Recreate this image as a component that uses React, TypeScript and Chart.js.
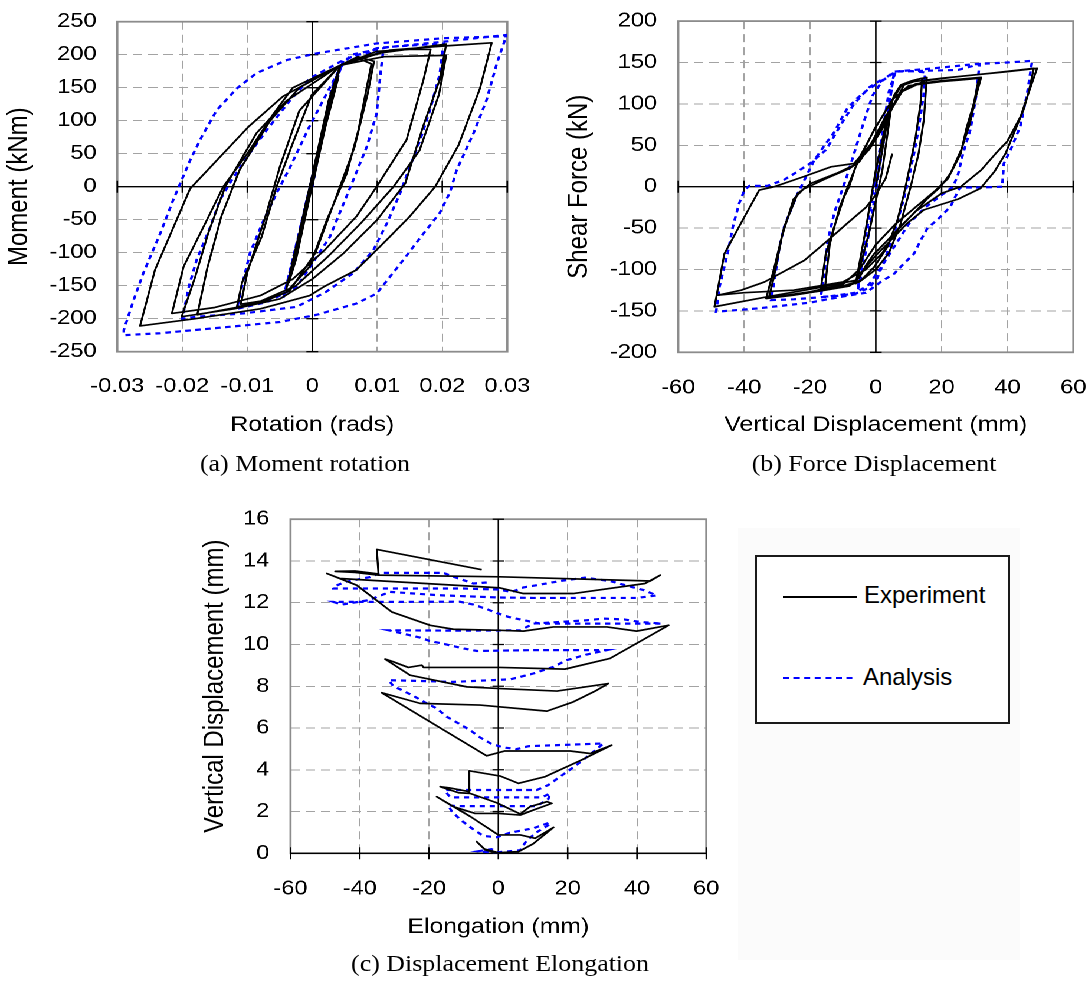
import React, { useEffect, useRef } from 'react';
import { Chart, registerables } from 'chart.js';

Chart.register(...registerables);

// The original figure is horizontally stretched; reproduce with a uniform scaleX.
const S = 1.18;
const SANS = "'Liberation Sans', Arial, Helvetica, sans-serif";
const SERIF = "'Liberation Serif', 'Times New Roman', Times, serif";

type Pt = [number, number];

// ---------------- (a) Moment rotation ----------------
const rotationTicks = [-0.03, -0.02, -0.01, 0, 0.01, 0.02, 0.03];
const rotationTickLabels = ['-0.03', '-0.02', '-0.01', '0', '0.01', '0.02', '0.03'];
const momentTicks = [-250, -200, -150, -100, -50, 0, 50, 100, 150, 200, 250];
const momentTickLabels = ['-250', '-200', '-150', '-100', '-50', '0', '50', '100', '150', '200', '250'];

const momentExperiment: Pt[] = [
  [0, 0], [0.0015, 70], [0.003, 130], [0.004, 165], [0.002, 90], [-0.0005, -20], [-0.0025, -110], [-0.0036, -145],
  [-0.0015, -60], [0.001, 50], [0.0035, 160], [0.0043, 182], [0.002, 95], [-0.001, -40], [-0.004, -155],
  [-0.002, -70], [0.0005, 40], [0.0025, 130], [0.0043, 184], [0.007, 195], [0.0091, 186], [0.0084, 152], [0.0071, 86],
  [0.0053, 20], [0.0022, -51], [-0.0004, -121], [-0.004, -160], [-0.008, -175], [-0.0116, -182],
  [-0.0108, -145], [-0.0078, -76], [-0.0055, 0], [-0.0032, 61], [-0.0001, 139], [0.0043, 184], [0.007, 197], [0.0095, 190],
  [0.0085, 140], [0.0065, 60], [0.0035, -20], [0.0005, -100], [-0.0035, -158], [-0.007, -172], [-0.011, -178],
  [-0.01, -130], [-0.0072, -45], [-0.005, 30], [-0.002, 115], [0.0043, 184],
  [0.0099, 205], [0.015, 208], [0.0182, 208], [0.0171, 162], [0.0145, 71], [0.0099, 0], [0.0068, -45], [0.002, -95],
  [-0.003, -140], [-0.008, -165], [-0.015, -183], [-0.0216, -192],
  [-0.0198, -121], [-0.0165, -56], [-0.0137, 0], [-0.01, 50], [-0.006, 110], [-0.003, 150], [0.0043, 184], [0.01, 202],
  [0.016, 210], [0.0206, 216],
  [0.0196, 162], [0.017, 90], [0.0143, 5], [0.01, -50], [0.0048, -101], [0, -140], [-0.005, -170], [-0.012, -185], [-0.0201, -197],
  [-0.018, -136], [-0.016, -70], [-0.0134, 0], [-0.0086, 81], [-0.004, 130], [0.0043, 184], [0.011, 197], [0.0206, 199],
  [0.0195, 140], [0.0165, 55], [0.0125, 0], [0.0075, -55], [0.0025, -105], [-0.0025, -150], [-0.009, -178], [-0.0177, -194],
  [-0.0162, -125], [-0.014, -45], [-0.0112, 25], [-0.0065, 100], [-0.002, 150], [0.0043, 184], [0.012, 207], [0.02, 213], [0.0276, 218],
  [0.0258, 149], [0.0225, 63], [0.0189, 0], [0.015, -45], [0.0114, -81], [0.0068, -126], [0.0017, -152], [-0.0004, -165],
  [-0.008, -185], [-0.018, -200], [-0.0265, -211],
  [-0.0242, -126], [-0.0188, -3], [-0.0098, 91], [-0.0045, 137], [0.0043, 184],
];

const momentAnalysis: Pt[] = [
  [0, 0], [0.003, 150], [0.0045, 185], [0.002, 100], [-0.003, -110], [-0.0045, -170], [-0.002, -70], [0.003, 140], [0.0048, 192],
  [0.007, 200], [0.0109, 205], [0.0105, 172], [0.0099, 111], [0.0084, 61], [0.0063, 10], [0.0027, -76], [-0.0024, -152],
  [-0.007, -175], [-0.0116, -185],
  [-0.0106, -141], [-0.0096, -101], [-0.0075, -51], [-0.0055, -10], [-0.0034, 30], [-0.0005, 90], [0.0022, 141], [0.0043, 180], [0.006, 200],
  [0.012, 212], [0.0202, 217], [0.0196, 170], [0.0181, 116], [0.0166, 71], [0.015, 30], [0.0135, -10], [0.0115, -55], [0.0094, -96],
  [0.0063, -131], [0.002, -160], [-0.0024, -182], [-0.0106, -192], [-0.0178, -197], [-0.02, -200],
  [-0.019, -152], [-0.0178, -111], [-0.0157, -61], [-0.0142, -20], [-0.0124, 10], [-0.0096, 51], [-0.007, 86], [-0.0034, 131],
  [-0.0004, 164], [0.0048, 192], [0.01, 210], [0.0205, 220],
  [0.0299, 230], [0.0284, 187], [0.0268, 131], [0.0248, 81], [0.0222, 25], [0.0212, -8], [0.0196, -40], [0.0171, -71], [0.014, -111],
  [0.0099, -162], [0.0068, -177], [0.0007, -194], [-0.005, -205], [-0.0157, -215], [-0.0234, -222], [-0.029, -225],
  [-0.029, -217], [-0.0275, -172], [-0.026, -131], [-0.0234, -71], [-0.0214, -20], [-0.0201, 10], [-0.0188, 40], [-0.017, 76],
  [-0.0147, 116], [-0.0116, 149], [-0.0086, 172], [-0.0039, 192], [0.0007, 202], [0.0099, 217], [0.0202, 225], [0.03, 228],
];

// ---------------- (b) Force displacement ----------------
const displacementTicks = [-60, -40, -20, 0, 20, 40, 60];
const displacementTickLabels = ['-60', '-40', '-20', '0', '20', '40', '60'];
const shearTicks = [-200, -150, -100, -50, 0, 50, 100, 150, 200];
const shearTickLabels = ['-200', '-150', '-100', '-50', '0', '50', '100', '150', '200'];

const shearExperiment: Pt[] = [
  [0, 0], [2, 45], [4, 90], [5, 105], [2, 20], [-2, -55], [-5, -100], [-6.1, -117], [-3, -50], [0, 20], [3, 75], [5.5, 110], [7.6, 123],
  [11, 128], [14.1, 131], [13.6, 101], [12.1, 60], [10.1, 20], [8.6, -8], [6.6, -40], [3.5, -73], [-0.5, -97], [-4.5, -113],
  [-10, -120], [-16.7, -123],
  [-15.2, -81], [-12.6, -48], [-9.6, -12], [-8.1, 0], [-6.1, 24], [-0.5, 69], [4.5, 101], [7.6, 121], [11, 128], [15.5, 132],
  [14.6, 81], [13, 40], [10.6, 0], [7.5, -45], [4, -80], [0, -100], [-5, -115], [-10, -121], [-15.5, -124],
  [-14, -70], [-11, -25], [-8.5, 0], [-5, 35], [0, 72], [5, 105], [10, 122],
  [20, 127], [26, 129], [31.3, 131], [29.8, 101], [27.5, 70], [25.8, 40], [23, 18], [19.7, 0], [15.5, -15], [11.6, -32], [7.5, -48],
  [3.5, -65], [-0.5, -81], [-3, -95], [-5, -110], [-8, -120], [-17, -126], [-25, -131], [-33.3, -135],
  [-30.8, -97], [-27.8, -48], [-23.7, -8], [-19.7, 4], [-12, 16], [-6.6, 26], [-2, 45], [2, 70], [5, 95], [8, 115], [12, 124],
  [20, 128], [32, 132],
  [30.5, 110], [28.5, 75], [26, 45], [22, 10], [18, -5], [12, -25], [6, -45], [0, -70], [-5, -100], [-10, -118], [-20, -127], [-32.5, -134],
  [-31, -110], [-28.5, -60], [-25, -15], [-22, -3], [-15, 10], [-8, 22], [-5, 30], [-1, 55], [3, 85], [8, 115],
  [15, 128], [25, 133], [35, 137], [48, 143], [46.5, 115], [44.9, 93], [42, 65], [39.4, 40], [36, 18], [31.8, -2], [25, -15],
  [14.6, -28], [9.6, -44], [4.5, -65], [0.5, -81], [-3, -97], [-6, -113], [-16, -121], [-33, -133], [-49, -145],
  [-46, -81], [-40.4, -40], [-35.4, -4], [-30.8, 0], [-22, 12], [-13.6, 24], [-6.6, 28], [-0.5, 56], [3.5, 85], [8.6, 123],
  [11.6, 127], [20, 131], [30, 135], [40, 139], [49, 143],
  [47, 120], [44, 85], [40, 55], [36.4, 40], [32, 20], [25.8, 0], [20, -8], [12, -30], [6, -55], [2, -80], [-3, -100], [-10, -115],
  [-25, -125], [-40, -128], [-48, -131],
  [-40.9, -125], [-33.8, -115], [-21.7, -89], [-14.6, -65], [-8.6, -44], [-3, -25], [0, -10], [3, 10], [5, 40],
];

const shearAnalysis: Pt[] = [
  [0, 0], [2.5, 60], [4.5, 110], [5.6, 139], [3, 70], [-1, -30], [-4, -100], [-5.5, -125], [-3, -60], [1, 40], [4, 115], [6, 139],
  [10, 140], [15, 138], [14.5, 110], [13, 70], [11.6, 40], [10, 10], [8.5, -15], [6, -50], [3, -85], [0.5, -110], [-2, -122],
  [-6, -129], [-12, -132], [-16.7, -133],
  [-15.5, -100], [-14.6, -65], [-12.5, -30], [-10.6, -8], [-9, 10], [-6.6, 40], [-3.5, 80], [-1, 110], [2, 128], [6, 139],
  [15, 140], [25, 141], [31.5, 148], [30.5, 110], [28.8, 70], [26.5, 40], [25, 15], [23.5, 0], [20, -10], [15, -25], [10, -45],
  [6, -70], [2, -95], [-2, -118], [-6, -128], [-15, -133], [-25, -136], [-31.8, -137],
  [-30.5, -105], [-29.3, -73], [-27.8, -48], [-25.5, -25], [-23.7, -8], [-22.7, 0], [-18.7, 32], [-15.2, 52], [-12.6, 66],
  [-10.6, 81], [-8.6, 95], [-5.6, 107], [-2.5, 117], [1.5, 127], [5.6, 139],
  [15, 142], [30, 148], [40, 150], [47.5, 152], [46, 113], [43.9, 73], [41, 45], [38.9, 28], [38.4, 0], [32, -1], [25.5, -1],
  [22.7, -24], [18.7, -40], [15.7, -50], [13.6, -65], [11.6, -81], [8, -95], [5.6, -105], [1.5, -115], [-3, -128], [-10.6, -133],
  [-20, -140], [-35.9, -147], [-48.5, -151],
  [-47.5, -121], [-45, -80], [-43.4, -48], [-41.5, -20], [-39.9, -4], [-38.4, 1], [-33, 1], [-28, 8], [-24.7, 16], [-20, 28],
  [-15, 45], [-10.6, 75], [-6.6, 100], [-2, 120], [2, 130],
];

// ---------------- (c) Displacement elongation ----------------
const elongationTicks = [-60, -40, -20, 0, 20, 40, 60];
const elongationTickLabels = ['-60', '-40', '-20', '0', '20', '40', '60'];
const verticalTicks = [0, 2, 4, 6, 8, 10, 12, 14, 16];
const verticalTickLabels = ['0', '2', '4', '6', '8', '10', '12', '14', '16'];

const elongationExperiment: Pt[] = [
  [0, 0], [-3.8, 0.16], [-6.3, 0.56], [-4, 0.2], [0, 0.03], [5.8, 0.08], [10, 0.45], [15.9, 1.24], [10.6, 0.72], [6.3, 0.88],
  [0, 0.88], [-8, 1.75], [-17.8, 2.71],
  [-13, 2.23], [-6.7, 1.91], [0, 1.91], [6.3, 1.83], [10.1, 2.07], [15.4, 2.39], [14, 2.47], [9.1, 2.23], [6.3, 1.88],
  [-0.5, 2.42], [-8.2, 2.87], [-11.5, 2.9], [-16.8, 3.19],
  [-14, 3.13], [-8.4, 2.95], [-8.4, 3.95], [0.5, 3.7], [5.8, 3.35], [13.5, 3.67], [23.6, 4.44], [32.7, 5.18],
  [26.5, 4.78], [20.7, 4.9], [1.9, 4.9], [-3.4, 4.67], [-33.7, 7.69],
  [-22.6, 7.18], [-5.3, 7.1], [14, 6.81], [21.6, 7.25], [28.4, 7.81], [31.7, 8.13],
  [16.9, 7.77], [0.5, 7.89], [-9.1, 7.97], [-25.5, 8.53], [-32.7, 9.3],
  [-30.3, 9.17], [-26, 8.9], [-22.1, 9.01], [-21.6, 8.9], [0.5, 8.9], [19.2, 8.82], [32.2, 9.33], [49.1, 10.92],
  [39.9, 10.64], [31.3, 10.84], [15.9, 10.84], [7.2, 10.64], [0.5, 10.68], [-13, 10.73], [-19.7, 10.92], [-30.8, 11.56],
  [-40.9, 12.84], [-49.5, 13.4],
  [-45.7, 13.16], [0.5, 12.71], [7.2, 12.44], [21.6, 12.44], [42.3, 12.92], [46.7, 13.32],
  [43.8, 13.04], [0.5, 13.24], [-34.6, 13.32], [-41.4, 13.45], [-47.1, 13.5], [-41.4, 13.52], [-34.6, 13.38],
  [-35.1, 14.55], [-4.8, 13.58],
];

const elongationAnalysis: Pt[] = [
  [0, 0], [-5.8, 0.1], [-2, 0.2], [0, 0.05], [6.3, 0.15], [8.1, 0.6], [11, 1.0], [14.4, 1.35], [14.9, 1.48], [10.1, 1.2],
  [6.3, 1.08], [3.4, 0.99], [-0.5, 0.77], [-4.3, 0.83], [-7.7, 1.2], [-10.6, 1.56], [-13.4, 1.99],
  [-14.5, 2.3], [-12, 2.26], [11.1, 2.26], [14.4, 2.6], [14.9, 2.87], [12.6, 2.68], [-13.9, 2.68], [-15.5, 3.0], [-14.9, 3.03],
  [11.1, 3.03], [14.4, 3.27], [17.8, 3.67], [21.2, 4.07], [24.1, 4.42], [27.4, 4.86], [30.3, 5.26],
  [8.7, 5.13], [5.3, 4.99], [1.4, 5.07], [-1.9, 5.23], [-5.3, 5.55], [-8.2, 5.9], [-11.5, 6.22], [-14.9, 6.54], [-17.8, 6.94],
  [-20.7, 7.18], [-24, 7.49], [-27.4, 7.78], [-30.3, 8.0], [-31.7, 8.29],
  [-13, 8.21], [3.4, 8.33], [10.1, 8.61], [15.9, 8.93], [19.7, 9.25], [25.5, 9.52], [31.3, 9.73],
  [10, 9.73], [-6.2, 9.69], [-10.1, 9.81], [-16.3, 10.05], [-19.7, 10.16], [-22.6, 10.33], [-31.7, 10.68],
  [-10, 10.66], [6.3, 10.68], [10.1, 11.0], [25.5, 11.16], [30.3, 11.24], [36.3, 11.2], [40.9, 11.08], [47.2, 11.0],
  [30, 11.0], [12, 11.0], [2.9, 11.32], [-0.5, 11.51], [-3.8, 11.72], [-7.2, 11.91], [-11.1, 12.05], [-30, 12.04], [-47.6, 12.04],
  [-45.2, 11.91], [-37.5, 12.12], [-31.3, 12.52], [-17.3, 12.36], [-8, 12.3], [0, 12.25], [10.1, 12.23], [39.9, 12.23], [45.7, 12.35],
  [42, 12.6], [39, 12.73], [32.2, 13.04], [25, 13.2], [17.8, 13.04], [11.1, 12.84], [7.2, 12.73], [3.9, 12.52], [0, 12.63],
  [-10.1, 12.68], [-47.6, 12.68],
  [-47.6, 12.76], [-44.2, 13.0], [-37, 13.23], [-34.1, 13.43], [-15.9, 13.43], [-13.4, 13.27], [-7.2, 12.92], [-3.4, 12.97],
];

// ---------------- panel layout (inner, pre-stretch coordinates) ----------------
interface PanelSpec {
  left: number; top: number; width: number; height: number;
  area: { left: number; top: number; right: number; bottom: number };
  xTicks: number[]; xLabels: string[]; yTicks: number[]; yLabels: string[];
  xTitle: string; yTitle: string;
  xTickPad: number; yTickPad: number; yTitlePad: number; xTitlePad: number;
  exp: Pt[]; ana: Pt[];
}

const panels: PanelSpec[] = [
  {
    left: 0, top: 0, width: 470, height: 445,
    area: { left: 117.3 / S, top: 21.7, right: 507.3 / S, bottom: 351.7 },
    xTicks: rotationTicks, xLabels: rotationTickLabels, yTicks: momentTicks, yLabels: momentTickLabels,
    xTitle: 'Rotation (rads)', yTitle: 'Moment (kNm)',
    xTickPad: 23, yTickPad: 17.5, yTitlePad: 2.1, xTitlePad: 7.4,
    exp: momentExperiment, ana: momentAnalysis,
  },
  {
    left: 470, top: 0, width: 1090 / S - 470, height: 445,
    area: { left: 678.3 / S, top: 21.1, right: 1073 / S, bottom: 352.3 },
    xTicks: displacementTicks, xLabels: displacementTickLabels, yTicks: shearTicks, yLabels: shearTickLabels,
    xTitle: 'Vertical Displacement (mm)', yTitle: 'Shear Force (kN)',
    xTickPad: 23.7, yTickPad: 18, yTitlePad: 6.6, xTitlePad: 7.4,
    exp: shearExperiment, ana: shearAnalysis,
  },
  {
    left: 150, top: 480, width: 480, height: 465,
    area: { left: 290.5 / S, top: 519.2, right: 706.3 / S, bottom: 853.3 },
    xTicks: elongationTicks, xLabels: elongationTickLabels, yTicks: verticalTicks, yLabels: verticalTickLabels,
    xTitle: 'Elongation (mm)', yTitle: 'Vertical Displacement (mm)',
    xTickPad: 23.7, yTickPad: 18, yTitlePad: 18, xTitlePad: 5.4,
    exp: elongationExperiment, ana: elongationAnalysis,
  },
];

const frameAndAxes = {
  id: 'frameAndAxes',
  beforeDatasetsDraw(chart: any) {
    const { ctx, chartArea: a } = chart;
    const xs = chart.scales.x;
    const ys = chart.scales.y;
    ctx.save();
    ctx.setLineDash([]);
    ctx.strokeStyle = '#8c8c8c';
    ctx.lineWidth = 1.8;
    ctx.strokeRect(a.left, a.top, a.right - a.left, a.bottom - a.top);
    const x0 = xs.getPixelForValue(0);
    const y0 = ys.getPixelForValue(0);
    ctx.strokeStyle = '#000';
    ctx.lineWidth = 1.3;
    ctx.beginPath();
    ctx.moveTo(x0, a.top); ctx.lineTo(x0, a.bottom);
    ctx.moveTo(a.left, y0); ctx.lineTo(a.right, y0);
    for (const t of ys.ticks) {
      const p = ys.getPixelForValue(t.value);
      ctx.moveTo(x0 - 5, p); ctx.lineTo(x0 + 5, p);
    }
    for (const t of xs.ticks) {
      const p = xs.getPixelForValue(t.value);
      ctx.moveTo(p, y0 - 6); ctx.lineTo(p, y0 + 6);
    }
    ctx.stroke();
    ctx.restore();
  },
};

function Panel({ spec }: { spec: PanelSpec }) {
  const ref = useRef<HTMLCanvasElement | null>(null);
  useEffect(() => {
    const canvas = ref.current;
    if (!canvas) return;
    const xMin = spec.xTicks[0], xMax = spec.xTicks[spec.xTicks.length - 1];
    const yMin = spec.yTicks[0], yMax = spec.yTicks[spec.yTicks.length - 1];
    const gridColor = (min: number, max: number) => (c: any) => {
      const v = c.tick ? c.tick.value : NaN;
      return v === 0 || v === min || v === max ? 'rgba(0,0,0,0)' : '#a3a3a3';
    };
    const yWidth = spec.area.left - spec.left;
    const xHeight = spec.top + spec.height - spec.area.bottom;
    const chart = new Chart(canvas, {
      type: 'scatter',
      data: {
        datasets: [
          {
            label: 'Experiment',
            data: spec.exp.map(([x, y]) => ({ x, y })),
            showLine: true,
            borderColor: '#000000',
            backgroundColor: '#000000',
            borderWidth: 1.7,
            borderJoinStyle: 'round',
            pointRadius: 0,
            tension: 0,
          },
          {
            label: 'Analysis',
            data: spec.ana.map(([x, y]) => ({ x, y })),
            showLine: true,
            borderColor: '#0000ff',
            backgroundColor: '#0000ff',
            borderWidth: 2.2,
            borderDash: [4.5, 4],
            pointRadius: 0,
            tension: 0,
          },
        ],
      },
      options: {
        responsive: false,
        animation: false,
        devicePixelRatio: 2,
        events: [],
        layout: {
          padding: {
            left: 0,
            top: spec.area.top - spec.top,
            right: spec.left + spec.width - spec.area.right,
            bottom: 0,
          },
        },
        plugins: { legend: { display: false }, tooltip: { enabled: false } },
        scales: {
          x: {
            type: 'linear',
            position: 'bottom',
            min: xMin,
            max: xMax,
            afterBuildTicks: (s: any) => { s.ticks = spec.xTicks.map((v) => ({ value: v })); },
            afterFit: (s: any) => {
              s.height = xHeight;
              s.paddingLeft = 0; s.paddingRight = 0; s.paddingTop = 0; s.paddingBottom = 0;
            },
            ticks: {
              callback: (_v: any, i: number) => spec.xLabels[i],
              padding: spec.xTickPad,
              color: '#000',
              font: { size: 20, family: SANS },
              maxRotation: 0,
              minRotation: 0,
              autoSkip: false,
            },
            grid: { color: gridColor(xMin, xMax), lineWidth: 1, drawTicks: false, borderDash: [8, 5] },
            border: { display: false, dash: [8, 5] },
            title: {
              display: true,
              text: spec.xTitle,
              color: '#000',
              font: { size: 21, family: SANS },
              padding: { top: 0, bottom: spec.xTitlePad },
            },
          },
          y: {
            type: 'linear',
            position: 'left',
            min: yMin,
            max: yMax,
            afterBuildTicks: (s: any) => { s.ticks = spec.yTicks.map((v) => ({ value: v })); },
            afterFit: (s: any) => {
              s.width = yWidth;
              s.paddingLeft = 0; s.paddingRight = 0; s.paddingTop = 0; s.paddingBottom = 0;
            },
            ticks: {
              callback: (_v: any, i: number) => spec.yLabels[i],
              padding: spec.yTickPad,
              color: '#000',
              font: { size: 20, family: SANS },
              autoSkip: false,
            },
            grid: { color: gridColor(yMin, yMax), lineWidth: 1, drawTicks: false, borderDash: [8, 5] },
            border: { display: false, dash: [8, 5] },
            title: {
              display: true,
              text: spec.yTitle,
              color: '#000',
              font: { size: 24, family: SANS },
              padding: { top: spec.yTitlePad, bottom: 0 },
            },
          },
        },
      } as any,
      plugins: [frameAndAxes],
    });
    return () => chart.destroy();
  }, [spec]);
  return (
    <canvas
      ref={ref}
      width={Math.round(spec.width)}
      height={spec.height}
      style={{
        position: 'absolute',
        left: spec.left,
        top: spec.top,
        width: Math.round(spec.width),
        height: spec.height,
      }}
    />
  );
}

// captions in page coordinates (centre x, centre y)
const captions = [
  { text: '(a) Moment rotation', x: 305, y: 463 },
  { text: '(b) Force Displacement', x: 873.5, y: 463 },
  { text: '(c) Displacement Elongation', x: 500, y: 963 },
];

function Legend() {
  const boxLeft = 755, boxTop = 555, boxRight = 1010, boxBottom = 724;
  const lineX = 783 - boxLeft;
  const lineW = 74;
  return (
    <>
      <div
        style={{
          position: 'absolute', left: 738, top: 528, width: 282, height: 432,
          background: '#fbfbfb',
        }}
      />
      <div
        style={{
          position: 'absolute', left: boxLeft, top: boxTop, width: boxRight - boxLeft,
          height: boxBottom - boxTop, border: '2px solid #1a1a1a', boxSizing: 'border-box', background: '#fff',
        }}
      >
        <svg style={{ position: 'absolute', left: lineX - 2, top: 28, overflow: 'visible' }} width={lineW} height={24}>
          <line x1={0} y1={12} x2={lineW} y2={12} stroke="#000" strokeWidth={2} />
        </svg>
        <div style={{ position: 'absolute', left: 864 - boxLeft - 2, top: 24, lineHeight: '28px', fontFamily: SANS, fontSize: 24, color: '#000', whiteSpace: 'nowrap' }}>
          Experiment
        </div>
        <svg style={{ position: 'absolute', left: lineX - 2, top: 109, overflow: 'visible' }} width={lineW} height={24}>
          <line x1={0} y1={12} x2={lineW} y2={12} stroke="#0000ff" strokeWidth={2} strokeDasharray="6 4.6" />
        </svg>
        <div style={{ position: 'absolute', left: 863 - boxLeft - 2, top: 106, lineHeight: '28px', fontFamily: SANS, fontSize: 24, color: '#000', whiteSpace: 'nowrap' }}>
          Analysis
        </div>
      </div>
    </>
  );
}

export default function App() {
  return (
    <div style={{ position: 'fixed', left: 0, top: 0, width: 1090, height: 982, overflow: 'hidden', background: '#fff' }}>
      <Legend />
      <div
        style={{
          position: 'absolute', left: 0, top: 0, width: 1090 / S, height: 982,
          transform: `scaleX(${S})`, transformOrigin: '0 0',
        }}
      >
        {panels.map((p, i) => <Panel key={i} spec={p} />)}
      </div>
      {captions.map((c, i) => (
        <div
          key={i}
          style={{
            position: 'absolute', left: c.x - 250, width: 500, top: c.y - 15, lineHeight: '30px',
            textAlign: 'center', fontFamily: SERIF, fontSize: 24, color: '#000', whiteSpace: 'nowrap',
            transform: 'scaleX(1.08)', transformOrigin: '50% 50%',
          }}
        >
          {c.text}
        </div>
      ))}
    </div>
  );
}
